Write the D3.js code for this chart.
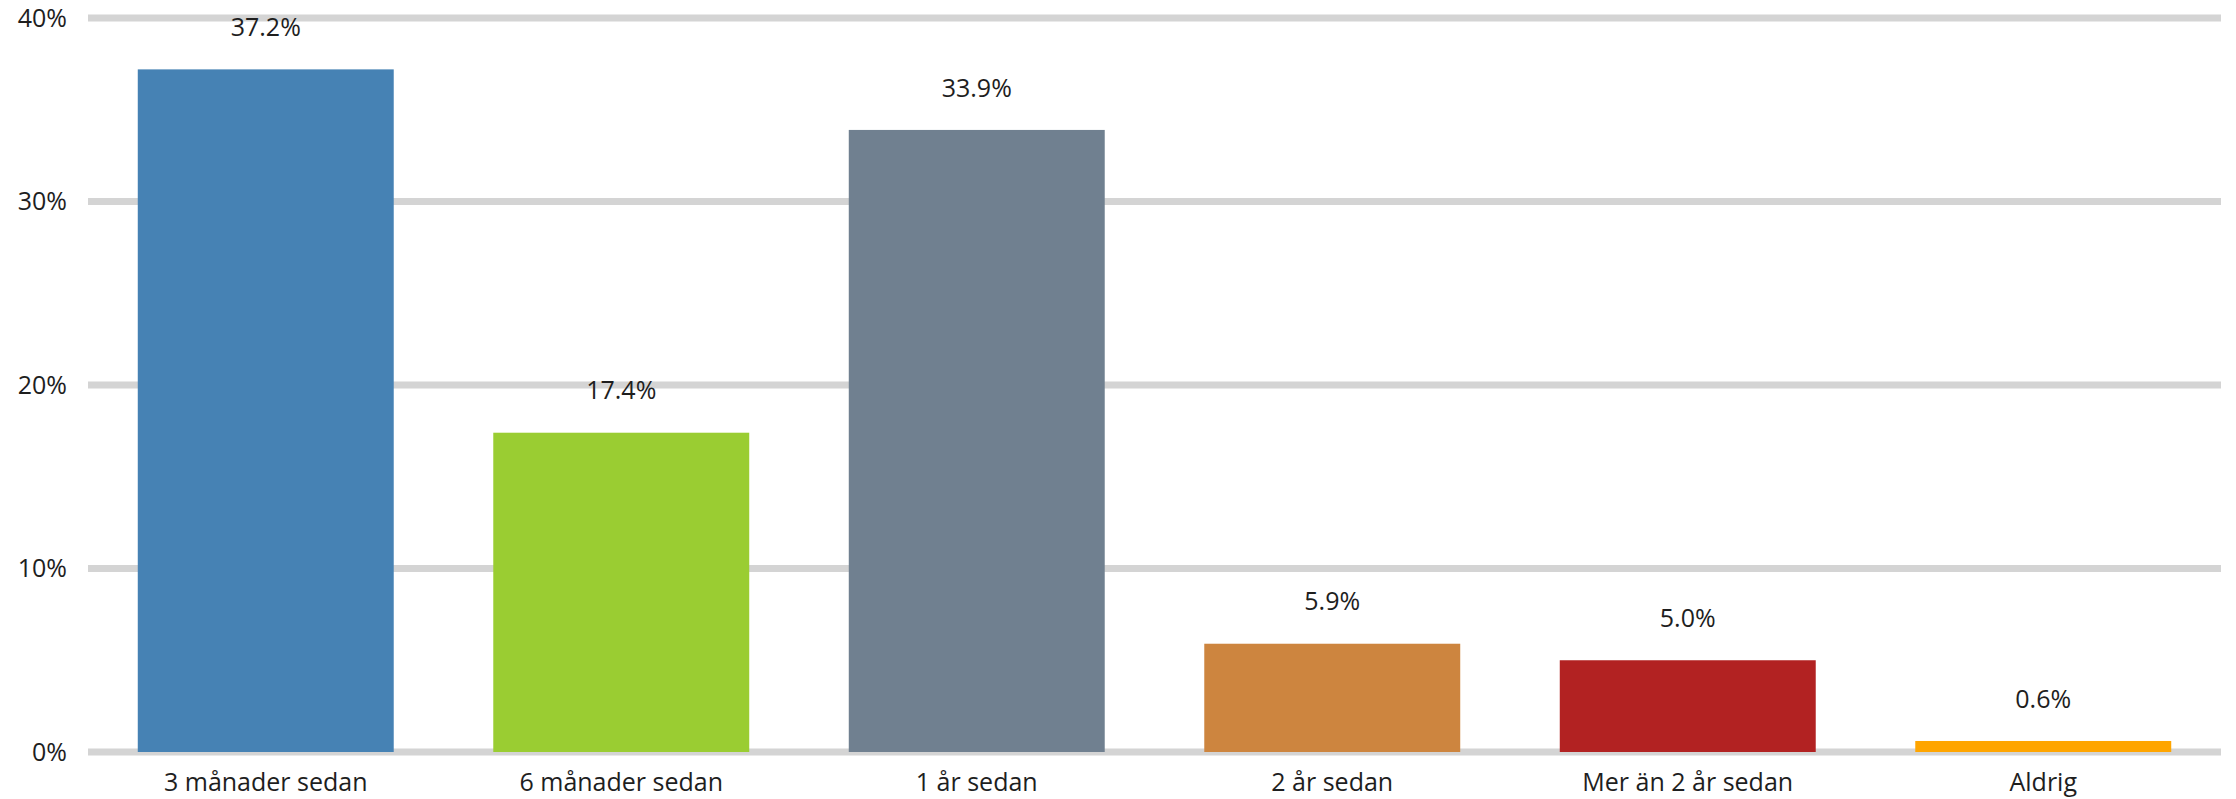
<!DOCTYPE html>
<html>
<head>
<meta charset="utf-8">
<script src="https://cdn.jsdelivr.net/npm/d3@7"></script>
<style>
  body { margin: 0; background: #fff; }
  text { font-family: "Open Sans", sans-serif; fill: #1e1e1e; }
</style>
</head>
<body>
<svg id="chart" width="2236" height="799"></svg>
<script>
const categories = ["3 månader sedan", "6 månader sedan", "1 år sedan", "2 år sedan", "Mer än 2 år sedan", "Aldrig"]
const values = [37.2, 17.4, 33.9, 5.9, 5.0, 0.6]
const colors = ["#4682B4", "#9ACD32", "#708090", "#CD853F", "#B22222", "#FFA500"]
const yTicks = [0, 10, 20, 30, 40]

const svg = d3.select("#chart")
const plotLeft = 88, plotRight = 2221, plotTop = 18, plotBottom = 752

var x = d3.scaleBand()
    .domain(categories)
    .range([plotLeft, plotRight])
    .paddingInner(0.28)
    .paddingOuter(0.14)

var y = d3.scaleLinear()
    .domain([0, 40])
    .range([plotBottom, plotTop])

// gridlines
svg.append("g")
    .selectAll("line")
    .data(yTicks)
    .join("line")
    .attr("x1", plotLeft)
    .attr("x2", plotRight)
    .attr("y1", (d) => y(d))
    .attr("y2", (d) => y(d))
    .attr("stroke", "#d4d4d4")
    .attr("stroke-width", 7)

// y tick labels
svg.append("g")
    .selectAll("text")
    .data(yTicks)
    .join("text")
    .attr("x", 67)
    .attr("y", (d) => y(d))
    .attr("dy", "0.35em")
    .attr("text-anchor", "end")
    .style("font-size", "25px")
    .text((d) => d + "%")

// bars
svg.append("g")
    .selectAll("rect")
    .data(values)
    .join("rect")
    .attr("x", (d, i) => x(categories[i]))
    .attr("width", x.bandwidth())
    .attr("y", (d) => y(d))
    .attr("height", (d) => plotBottom - y(d))
    .attr("fill", (d, i) => colors[i])

// value labels
svg.append("g")
    .selectAll("text")
    .data(values)
    .join("text")
    .attr("x", (d, i) => x(categories[i]) + x.bandwidth() / 2)
    .attr("y", (d) => y(d) - 42)
    .attr("dy", "0.35em")
    .attr("text-anchor", "middle")
    .style("font-size", "25px")
    .text((d) => d.toFixed(1) + "%")

// category labels
svg.append("g")
    .selectAll("text")
    .data(categories)
    .join("text")
    .attr("x", (d) => x(d) + x.bandwidth() / 2)
    .attr("y", 782)
    .attr("dy", "0.35em")
    .attr("text-anchor", "middle")
    .style("font-size", "25px")
    .text((d) => d)
</script>
</body>
</html>
